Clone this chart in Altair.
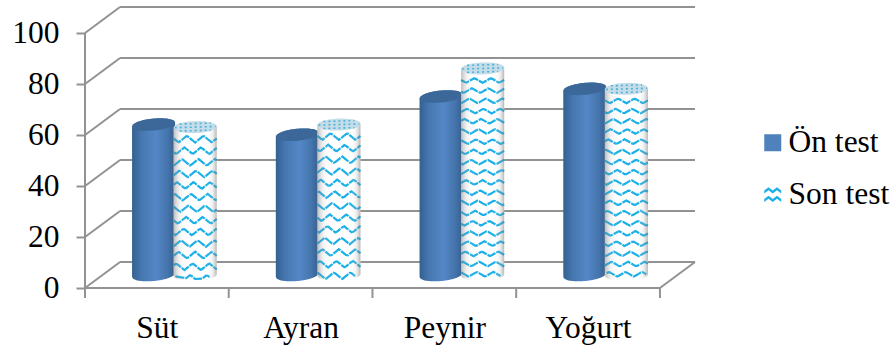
import math
import altair as alt
import pandas as pd

# Survey scores per product
categories = ["Süt", "Ayran", "Peynir", "Yoğurt"]
on_test = [59, 55, 70, 73]
son_test = [58, 59, 81, 73]
series_names = ["Ön test", "Son test"]
value_ticks = [0, 20, 40, 60, 80, 100]

FONT = "Liberation Serif"
FONT_SIZE = 31.5
BLUE = "#4f81bd"
WAVE = "#1cb0e8"
GRID = "#929292"

# Oblique projection: pixels per category and per score unit, plus wall depth
PX_X = 143.5
PX_Y = 2.55
DEPTH_X = 35 / PX_X
DEPTH_Y = 26 / PX_Y
X_MAX = 4 + DEPTH_X
Y_MAX = 281 / PX_Y

# Cylinder shape, in pixels
RX = 21.5
RY = 6.0
BASE_LIFT = 13 / PX_Y
BLUE_OFFSET = (153.5 - 85) / PX_X
SON_OFFSET = (195.0 - 85) / PX_X
BLUE_TILT = -0.09
SON_TILT = -0.03
WAVE_STEP = [11.6, 11.6, 10.2, 10.2]
WAVE_AMP = [3.4, 3.4, 2.4, 2.4]
WAVE_PERIOD = 16.5


def arc_rows(key, cx, cy_value, tilt, top_sign, bottom_value, bottom_sign, n=40):
    """Samples the upper/lower outline of a cylinder part as x, y, y2 rows."""
    rows = []
    for j in range(n + 1):
        u = -1 + 2 * j / n
        bulge = RY * math.sqrt(max(0.0, 1 - u * u))
        lean = tilt * RX * u
        rows.append({
            "key": key,
            "x": cx + u * RX / PX_X,
            "y": cy_value + (top_sign * bulge - lean) / PX_Y,
            "y2": bottom_value + (bottom_sign * bulge - lean) / PX_Y,
        })
    return rows


blue_body, blue_top, son_body, son_top, wave_rows, top_dots = [], [], [], [], [], []
for i, name in enumerate(categories):
    bx = i + BLUE_OFFSET
    sx = i + SON_OFFSET
    bv = on_test[i] + BASE_LIFT
    sv = son_test[i] + BASE_LIFT
    blue_body += arc_rows(name, bx, bv, BLUE_TILT, 1, BASE_LIFT, -1)
    blue_top += arc_rows(name, bx, bv, BLUE_TILT, 1, bv, -1)
    son_body += arc_rows(name, sx, sv, SON_TILT, 1, BASE_LIFT, -1)
    son_top += arc_rows(name, sx, sv, SON_TILT, 1, sv, -1)

    # Zigzag rows printed on the pale cylinder, kept above its lower rim
    step = WAVE_STEP[i]
    amp = WAVE_AMP[i]
    height_px = son_test[i] * PX_Y
    k = 0
    while True:
        offset_px = 12 + k * step
        if offset_px > height_px + RY:
            break
        phase = k * 0.15
        n = 24
        for j in range(n + 1):
            u = -1 + 2 * j / n
            t = (u * RX) / WAVE_PERIOD + phase
            tri = 4 * abs(t - math.floor(t + 0.5)) - 1
            y_value = sv + (-offset_px + amp * tri) / PX_Y
            rim = BASE_LIFT - (RY * math.sqrt(max(0.0, 1 - u * u)) + SON_TILT * RX * u) / PX_Y
            if y_value >= rim + 0.6:
                wave_rows.append({
                    "key": f"{name}-{k}",
                    "x": sx + u * RX / PX_X,
                    "y": y_value,
                })
        k += 1

    # Speckle rows across the pale cylinder's cap
    for row, (dy, half) in enumerate([(-3.5, 0.72), (0.0, 0.95), (3.5, 0.72)]):
        for u in (-half, half):
            top_dots.append({
                "key": f"{name}-{row}",
                "x": sx + u * RX / PX_X,
                "y": sv - (dy + SON_TILT * RX * u) / PX_Y,
            })

# Chart frame: back wall, side wall, floor and tick segments as one table of rules
frame = []
for v in value_ticks:
    frame.append({"x0": DEPTH_X, "x1": X_MAX, "y0": v + DEPTH_Y, "y1": v + DEPTH_Y})
    frame.append({"x0": 0, "x1": DEPTH_X, "y0": v, "y1": v + DEPTH_Y})
frame.append({"x0": 0, "x1": 0, "y0": 0, "y1": 100})
frame.append({"x0": 0, "x1": 4, "y0": 0, "y1": 0})
frame.append({"x0": 4, "x1": X_MAX, "y0": 0, "y1": DEPTH_Y})
for i in range(len(categories) + 1):
    frame.append({"x0": i, "x1": i, "y0": 0, "y1": -10 / PX_Y})

x_scale = alt.Scale(domain=[0, X_MAX], nice=False, zero=False)
y_scale = alt.Scale(domain=[0, Y_MAX], nice=False, zero=False)

label_expr = "[" + ",".join(f"'{c}'" for c in categories) + "][floor(datum.value)]"
x_axis = alt.Axis(
    values=[i + 0.5 for i in range(len(categories))],
    labelExpr=label_expr,
    title=None, grid=False, domain=False, ticks=False,
    labelFont=FONT, labelFontSize=FONT_SIZE, labelColor="#000000",
    labelPadding=24, labelAngle=0, labelOverlap=False, labelFlush=False,
)
y_axis = alt.Axis(
    values=value_ticks,
    title=None, grid=False, domain=False,
    tickSize=9, tickColor=GRID, tickWidth=2,
    labelFont=FONT, labelFontSize=FONT_SIZE, labelColor="#000000",
    labelPadding=17,
)


def X(field):
    return alt.X(field, scale=x_scale, axis=x_axis)


def Y(field):
    return alt.Y(field, scale=y_scale, axis=y_axis)


rules = alt.Chart(pd.DataFrame(frame)).mark_rule(color=GRID, strokeWidth=2).encode(
    x=X("x0:Q"),
    x2="x1:Q",
    y=Y("y0:Q"),
    y2="y1:Q",
)


def gradient(stops):
    return alt.LinearGradient(
        gradient="linear", x1=0, x2=1, y1=0, y2=0,
        stops=[alt.GradientStop(offset=o, color=c) for o, c in stops],
    )


def area_layer(rows, **mark):
    return alt.Chart(pd.DataFrame(rows)).mark_area(**mark).encode(
        x=X("x:Q"),
        y=Y("y:Q"),
        y2="y2:Q",
        detail="key:N",
    )


blue_fill = gradient([(0, "#33618f"), (0.22, "#4677b0"), (0.55, "#5487c6"),
                      (0.82, "#4575ad"), (1, "#375f8c")])
shade = gradient([(0, "rgba(110,110,110,0.45)"), (0.14, "rgba(170,170,170,0.14)"),
                  (0.35, "rgba(255,255,255,0)"), (0.75, "rgba(255,255,255,0)"),
                  (0.9, "rgba(170,170,170,0.18)"), (1, "rgba(110,110,110,0.5)")])

blue_layer = area_layer(blue_body, color=blue_fill)
blue_cap = area_layer(blue_top, color="#3c6899")
son_base = area_layer(son_body, color="#ffffff")
son_shade = area_layer(son_body, color=shade)
son_cap = area_layer(son_top, color="#c4dde8")

waves = alt.Chart(pd.DataFrame(wave_rows)).mark_line(
    color=WAVE, strokeWidth=2.2, strokeDash=[9, 1]
).encode(
    x=X("x:Q"),
    y=Y("y:Q"),
    detail="key:N",
)
dots = alt.Chart(pd.DataFrame(top_dots)).mark_line(
    color="#4fb0d8", strokeWidth=1.6, strokeDash=[2, 3]
).encode(
    x=X("x:Q"),
    y=Y("y:Q"),
    detail="key:N",
)

# Legend swatches: a plain square and a small zigzag
SQUARE = "M-1,-1H1V1H-1Z"
ZIGZAG = (
    "M-1,-0.55L-0.5,-0.95L0,-0.55L0.5,-0.95L1,-0.55L1,-0.2L0.5,-0.6L0,-0.2L-0.5,-0.6L-1,-0.2Z"
    "M-1,0.45L-0.5,0.05L0,0.45L0.5,0.05L1,0.45L1,0.8L0.5,0.4L0,0.8L-0.5,0.4L-1,0.8Z"
)
legend = alt.Legend(
    title=None, orient="none", legendX=672, legendY=120,
    labelFont=FONT, labelFontSize=FONT_SIZE, labelColor="#000000",
    symbolSize=289, symbolStrokeWidth=0, symbolOpacity=1,
    rowPadding=19.5, labelOffset=0, padding=0,
)
legend_layer = alt.Chart(pd.DataFrame({"series": series_names, "x": [1, 1], "y": [1, 1]})).mark_point(
    filled=True, opacity=0
).encode(
    x=X("x:Q"),
    y=Y("y:Q"),
    color=alt.Color("series:N", scale=alt.Scale(domain=series_names, range=[BLUE, WAVE]), legend=legend),
    shape=alt.Shape("series:N", scale=alt.Scale(domain=series_names, range=[SQUARE, ZIGZAG]), legend=legend),
)

chart = alt.layer(
    rules, legend_layer, blue_layer, blue_cap, son_base, waves, son_shade, son_cap, dots
).properties(
    width=610,
    height=281,
    padding={"left": 85, "top": 7, "right": 199, "bottom": 57},
    autosize=alt.AutoSizeParams(type="none"),
    background="#ffffff",
).configure_view(stroke=None)

chart.save("out.html", embed_options={"renderer": "svg", "actions": False})
